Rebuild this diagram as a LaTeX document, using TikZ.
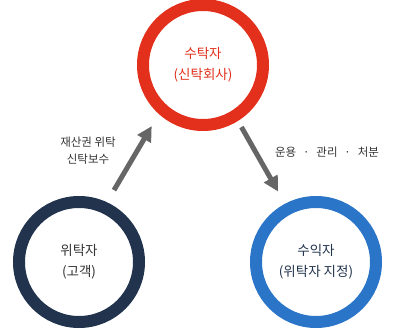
\documentclass[tikz,border=0pt]{standalone}
\usepackage{fontspec}
\setmainfont{Noto Sans CJK KR}
\usepackage{tikz}
\usetikzlibrary{arrows.meta,positioning}
\definecolor{trustred}{HTML}{E3301C}
\definecolor{navy}{HTML}{22344D}
\definecolor{skyblue}{HTML}{2A75C8}
\definecolor{arrowgray}{HTML}{666666}
\definecolor{textgray}{HTML}{333333}

\begin{document}
\begin{tikzpicture}[x=1pt, y=-1pt,
  party/.style={circle, line width=12pt, minimum size=120pt, align=center, font=\fontsize{13.5}{21}\selectfont},
  flow/.style={-{Triangle[length=15pt, width=15pt]}, line width=5pt, color=arrowgray},
  note/.style={align=center, text=textgray, font=\fontsize{11.5}{17}\selectfont}
]
  \useasboundingbox (0,0) rectangle (402,329);

  \node[party, draw=trustred, text=trustred] (trustee) at (203,65) {수탁자\\(신탁회사)};
  \node[party, draw=navy, text=textgray] (truster) at (79,262) {위탁자\\(고객)};
  \node[party, draw=skyblue, text=navy] (beneficiary) at (316,262) {수익자\\(위탁자 지정)};

  \draw[flow, shorten <=14pt, shorten >=14pt] (truster.65) -- (trustee.228);
  \draw[flow, shorten <=7pt, shorten >=14pt] (trustee.-58) -- (beneficiary.118);

  \node[note] (entrust) at (88,151) {재산권 위탁\\신탁보수};
  \node[note] (manage) at (327,152) {운용\hspace{0.6em}·\hspace{0.6em}관리\hspace{0.6em}·\hspace{0.6em}처분};
\end{tikzpicture}
\end{document}
